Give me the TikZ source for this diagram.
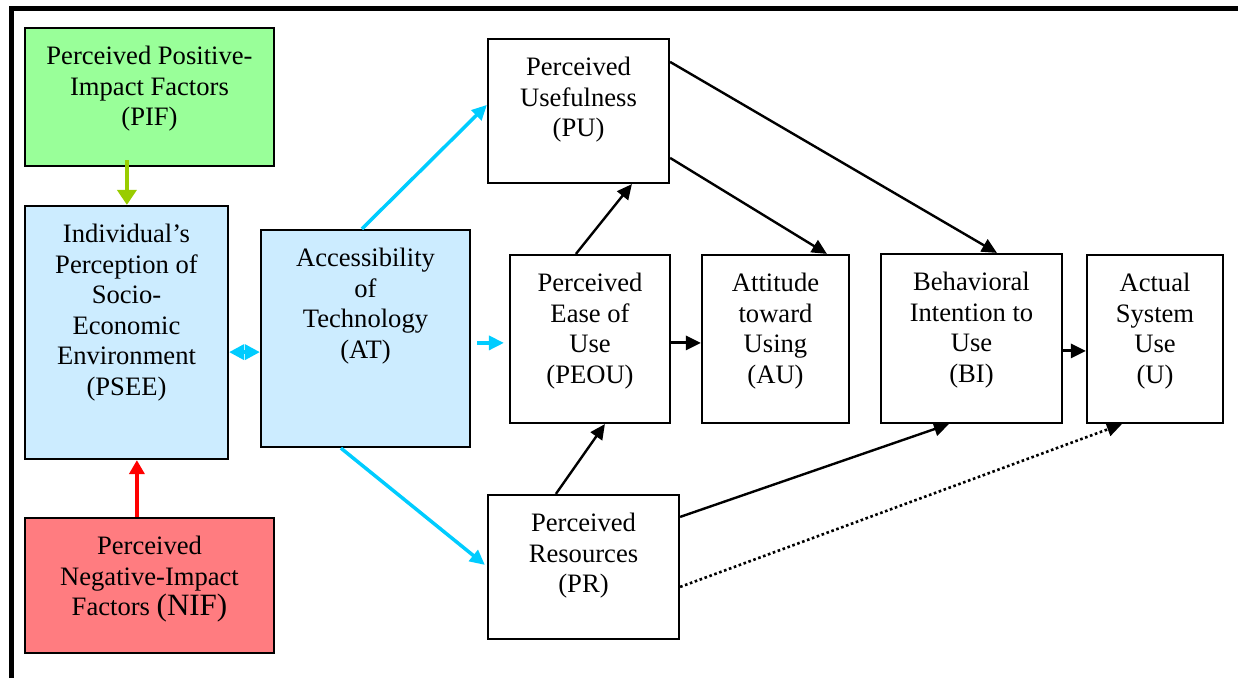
\documentclass[tikz,border=0pt]{standalone}
\usepackage{fontspec}
\setmainfont{Liberation Serif}
\newfontfamily\tnrfont{Liberation Serif}
\usetikzlibrary{arrows.meta,calc}
\definecolor{pifc}{HTML}{99FF99}
\definecolor{blueb}{HTML}{CCECFF}
\definecolor{nifc}{HTML}{FF7C80}
\definecolor{cyanl}{HTML}{00CCFF}
\definecolor{greenl}{HTML}{99CC00}
\newcommand{\mainsz}{\tnrfont\fontsize{26.6}{30.6}\selectfont}
\newcommand{\bxt}[3]{\parbox[t][#2pt][t]{#1pt}{\centering\vspace*{18pt}#3\par}}
\tikzset{
  boxs/.style={draw, line width=2.2pt, inner sep=0pt, anchor=center, font=\mainsz},
  blk/.style={draw=black, line width=2.4pt, -{Triangle[length=15pt,width=14pt]}},
  blkshort/.style={blk, line width=3pt},
  cyn/.style={draw=cyanl, line width=3.5pt, -{Triangle[length=15pt,width=14pt]}},
  cyndbl/.style={draw=cyanl, line width=3.5pt, {Triangle[length=15pt,width=15pt]}-{Triangle[length=15pt,width=15pt]}},
  grn/.style={draw=greenl, line width=4.5pt, -{Triangle[length=15pt,width=19pt]}},
  rd/.style={draw=red, line width=4pt, -{Triangle[length=14pt,width=15pt]}},
  dots/.style={blk, line width=2.6pt, dash pattern=on 2.6pt off 2.6pt}
}
\begin{document}
\begin{tikzpicture}[x=1pt,y=-1pt]
\useasboundingbox (0,0) rectangle (1238,678);
% outer frame
\draw[line width=4.5pt] (11.7,678) -- (11.7,8.5) -- (1238,8.5);
% boxes
\node[boxs, fill=pifc] (PIF) at (149.5,97) {\bxt{249}{138}{Perceived Positive-\\Impact Factors\\(PIF)}};
\node[boxs, fill=blueb] (PSEE) at (126.5,332.5) {\bxt{203}{253}{Individual’s\\Perception of\\Socio-\\Economic\\Environment\\(PSEE)}};
\node[boxs, fill=nifc] (NIF) at (149.5,585.5) {\bxt{249}{135}{Perceived\\Negative-Impact\\Factors {\fontsize{31}{30.6}\selectfont(NIF)}}};
\node[boxs, fill=blueb] (AT) at (365.5,338.5) {\bxt{209}{217}{Accessibility\\of\\Technology\\(AT)}};
\node[boxs, fill=white] (PU) at (578.5,111) {\bxt{181}{144}{Perceived\\Usefulness\\(PU)}};
\node[boxs, fill=white] (PEOU) at (590,339) {\bxt{160}{168}{Perceived\\Ease of\\Use\\(PEOU)}};
\node[boxs, fill=white] (AU) at (775.5,339) {\bxt{147}{168}{Attitude\\toward\\Using\\(AU)}};
\node[boxs, fill=white] (BI) at (971.5,338.5) {\bxt{181}{169}{Behavioral\\Intention to\\Use\\(BI)}};
\node[boxs, fill=white] (U) at (1155,339) {\bxt{136}{168}{Actual\\System\\Use\\(U)}};
\node[boxs, fill=white] (PR) at (583.5,567) {\bxt{191}{144}{Perceived\\Resources\\(PR)}};
% coloured connectors
\draw[grn] ($(PIF.south west)+(103,-7)$) -- ($(PSEE.north west)+(103,0)$);
\draw[rd] ($(NIF.north west)+(113,0)$) -- ($(PSEE.south west)+(113,0)$);
\draw[cyndbl] ($(PSEE.south east)+(0,-108)$) -- ($(AT.south west)+(0,-96)$);
\draw[cyn] ($(AT.north west)+(102,0)$) -- ($(PU.north west)+(0,67)$);
\draw[cyn] ($(AT.north east)+(6,114)$) -- ($(PEOU.north west)+(-5,89)$);
\draw[cyn] ($(AT.south west)+(81,0)$) -- ($(PR.north west)+(-2,71)$);
% black connectors
\draw[blk] ($(PEOU.north west)+(67,0)$) -- ($(PU.south west)+(145,0)$);
\draw[blk] ($(PU.north east)+(0,120)$) -- ($(AU.north west)+(126,0)$);
\draw[blk] ($(PU.north east)+(0,24)$) -- ($(BI.north west)+(117,0)$);
\draw[blkshort] ($(PEOU.north east)+(0,89)$) -- ($(AU.north west)+(0,89)$);
\draw[blkshort] ($(BI.north east)+(0,98)$) -- ($(U.north west)+(0,97)$);
\draw[blk] ($(PR.north west)+(69,0)$) -- ($(PEOU.south west)+(96,0)$);
\draw[blk] ($(PR.north east)+(0,23)$) -- ($(BI.south west)+(69,0)$);
\draw[dots] ($(PR.north east)+(0,93)$) -- ($(U.south west)+(36,0)$);
\end{tikzpicture}
\end{document}
